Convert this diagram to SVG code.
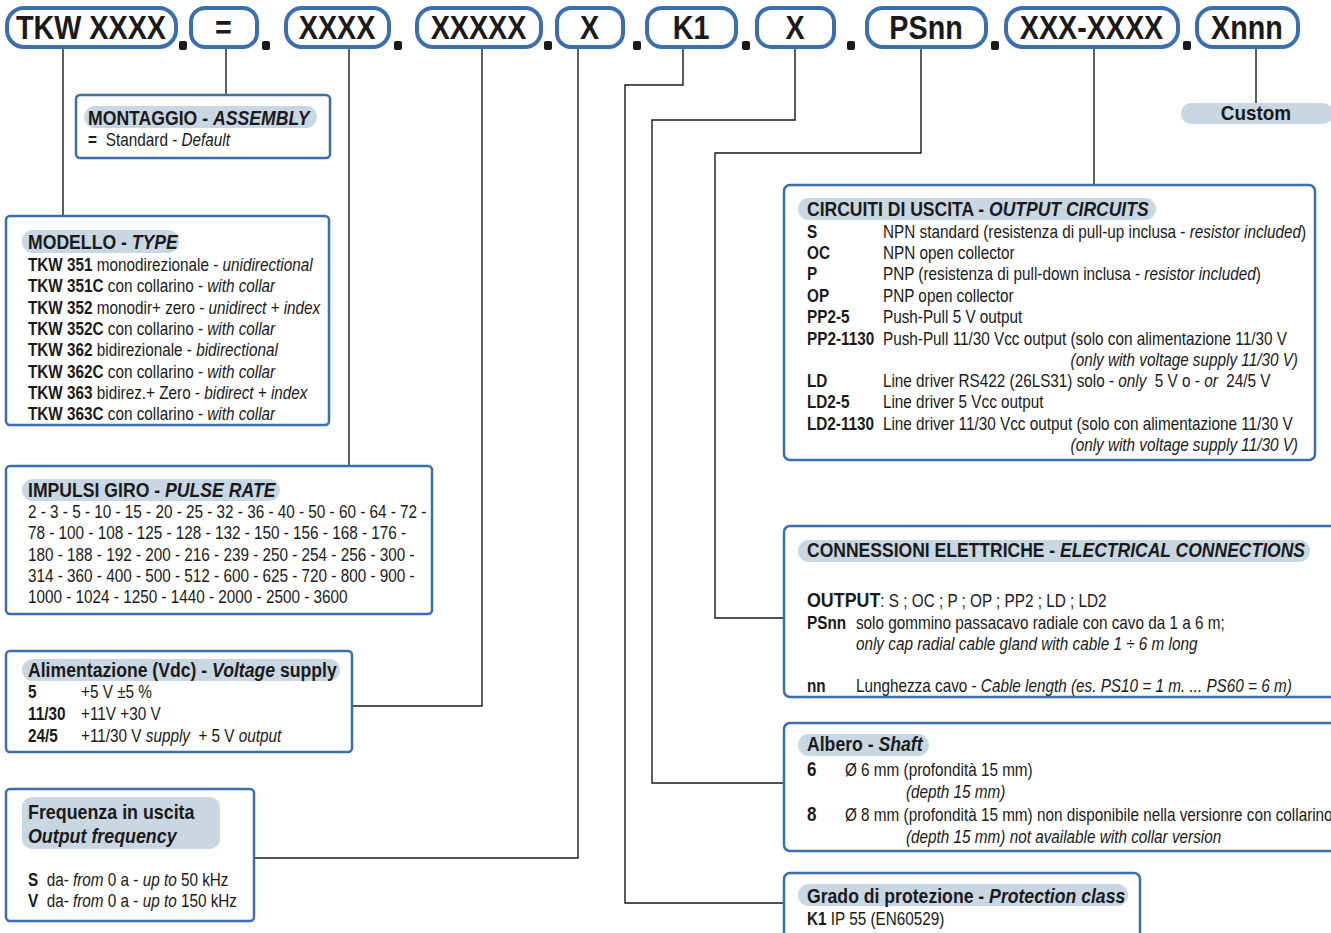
<svg xmlns="http://www.w3.org/2000/svg" width="1331" height="933" viewBox="0 0 1331 933">
<style>
.pill{fill:#fff;stroke:#3b6ead;stroke-width:4}
.box{fill:#fff;stroke:#3b6ead;stroke-width:2.5}
.hd{fill:#c9d7e3}
.dot{fill:#1a1a1a}
.con{fill:none;stroke:#1a1a1a;stroke-width:1.4}
text{font-family:"Liberation Sans",Arial,sans-serif;fill:#1a1a1a}
.pt{font-size:33px;font-weight:bold;text-anchor:middle}
.t{font-size:18px}
.h{font-size:21px;font-weight:bold}
.b{font-weight:bold}
.i{font-style:italic}
.e{text-anchor:end}
.pre{white-space:pre}
</style>
<rect width="1331" height="933" fill="#fff"/>
<g id="connectors">
<path class="con" d="M63 47V216"/>
<path class="con" d="M226 47V95"/>
<path class="con" d="M349 47V465"/>
<path class="con" d="M482 47V706H352"/>
<path class="con" d="M578 47V858H254"/>
<path class="con" d="M683 47V85H625V903H784"/>
<path class="con" d="M795 47V120H652V783H784"/>
<path class="con" d="M921 47V153H715V618H784"/>
<path class="con" d="M1094 47V185"/>
<path class="con" d="M1256 47V103"/>
</g>
<g id="code">
<rect class="pill" x="7" y="8" width="169" height="39" rx="17"/>
<rect class="pill" x="191" y="8" width="66" height="39" rx="14"/>
<rect class="pill" x="286" y="8" width="103" height="39" rx="16"/>
<rect class="pill" x="417" y="8" width="124" height="39" rx="16"/>
<rect class="pill" x="557" y="8" width="66" height="39" rx="14"/>
<rect class="pill" x="647" y="8" width="89" height="39" rx="15"/>
<rect class="pill" x="757" y="8" width="77" height="39" rx="14"/>
<rect class="pill" x="867" y="8" width="119" height="39" rx="16"/>
<rect class="pill" x="1006" y="8" width="172" height="39" rx="17"/>
<rect class="pill" x="1197" y="8" width="101" height="39" rx="16"/>
<g transform="translate(0 38.5) scale(0.87 1)">
<text class="pt" x="104.6">TKW XXXX</text>
<text class="pt" x="256.9">=</text>
<text class="pt" x="387.4">XXXX</text>
<text class="pt" x="550">XXXXX</text>
<text class="pt" x="677.6">X</text>
<text class="pt" x="794.3">K1</text>
<text class="pt" x="913.8">X</text>
<text class="pt" x="1064.4">PSnn</text>
<text class="pt" x="1254.6">XXX-XXXX</text>
<text class="pt" x="1433.3">Xnnn</text>
</g>
<rect class="dot" x="179" y="41" width="8" height="9" rx="2"/>
<rect class="dot" x="262" y="41" width="8" height="9" rx="2"/>
<rect class="dot" x="394" y="41" width="8" height="9" rx="2"/>
<rect class="dot" x="544" y="41" width="8" height="9" rx="2"/>
<rect class="dot" x="633" y="41" width="8" height="9" rx="2"/>
<rect class="dot" x="742" y="41" width="8" height="9" rx="2"/>
<rect class="dot" x="847" y="41" width="8" height="9" rx="2"/>
<rect class="dot" x="991" y="41" width="8" height="9" rx="2"/>
<rect class="dot" x="1183" y="41" width="8" height="9" rx="2"/>
</g>
<g id="custom">
<rect class="hd" x="1181" y="103" width="152" height="21" rx="10"/>
<text x="1256" y="120" style="font-size:21px;font-weight:bold;text-anchor:middle" transform="translate(1256 0) scale(0.9 1) translate(-1256 0)">Custom</text>
</g>
<g id="montaggio">
<rect class="box" x="76" y="95" width="254" height="63" rx="4"/>
<rect class="hd" x="84" y="106" width="233" height="22" rx="11"/>
<g transform="translate(88 0) scale(0.84 1)">
<text class="h" x="0" y="125">MONTAGGIO - <tspan class="i">ASSEMBLY</tspan></text>
</g>
<g transform="translate(88 0) scale(0.85 1)">
<text class="t" y="146"><tspan class="b" x="0">=</tspan><tspan x="21">Standard - </tspan><tspan class="i">Default</tspan></text>
</g>
</g>
<g id="modello">
<rect class="box" x="6" y="216" width="323" height="209" rx="4"/>
<rect class="hd" x="22" y="230" width="157" height="23" rx="11"/>
<g transform="translate(28 0) scale(0.84 1)">
<text class="h" x="0" y="249">MODELLO - <tspan class="i">TYPE</tspan></text>
</g>
<g transform="translate(28 0) scale(0.85 1)">
<text class="t" x="0" y="271"><tspan class="b">TKW 351</tspan> monodirezionale - <tspan class="i">unidirectional</tspan></text>
<text class="t" x="0" y="292"><tspan class="b">TKW 351C</tspan> con collarino - <tspan class="i">with collar</tspan></text>
<text class="t" x="0" y="314"><tspan class="b">TKW 352</tspan> monodir+ zero - <tspan class="i">unidirect + index</tspan></text>
<text class="t" x="0" y="335"><tspan class="b">TKW 352C</tspan> con collarino - <tspan class="i">with collar</tspan></text>
<text class="t" x="0" y="356"><tspan class="b">TKW 362</tspan> bidirezionale - <tspan class="i">bidirectional</tspan></text>
<text class="t" x="0" y="378"><tspan class="b">TKW 362C</tspan> con collarino - <tspan class="i">with collar</tspan></text>
<text class="t" x="0" y="399"><tspan class="b">TKW 363</tspan> bidirez.+ Zero - <tspan class="i">bidirect + index</tspan></text>
<text class="t" x="0" y="420"><tspan class="b">TKW 363C</tspan> con collarino - <tspan class="i">with collar</tspan></text>
</g>
</g>
<g id="impulsi">
<rect class="box" x="6" y="466" width="426" height="148" rx="4"/>
<rect class="hd" x="22" y="479" width="258" height="22" rx="11"/>
<g transform="translate(28 0) scale(0.84 1)">
<text class="h" x="0" y="497">IMPULSI GIRO - <tspan class="i">PULSE RATE</tspan></text>
</g>
<g transform="translate(28 0) scale(0.85 1)">
<text class="t" x="0" y="518">2 - 3 - 5 - 10 - 15 - 20 - 25 - 32 - 36 - 40 - 50 - 60 - 64 - 72 -</text>
<text class="t" x="0" y="539">78 - 100 - 108 - 125 - 128 - 132 - 150 - 156 - 168 - 176 -</text>
<text class="t" x="0" y="561">180 - 188 - 192 - 200 - 216 - 239 - 250 - 254 - 256 - 300 -</text>
<text class="t" x="0" y="582">314 - 360 - 400 - 500 - 512 - 600 - 625 - 720 - 800 - 900 -</text>
<text class="t" x="0" y="603">1000 - 1024 - 1250 - 1440 - 2000 - 2500 - 3600</text>
</g>
</g>
<g id="alimentazione">
<rect class="box" x="6" y="651" width="346" height="101" rx="4"/>
<rect class="hd" x="22" y="659" width="318" height="22" rx="11"/>
<g transform="translate(28 0) scale(0.84 1)">
<text class="h" x="0" y="677">Alimentazione (Vdc) - <tspan class="i">Voltage</tspan> supply</text>
</g>
<g transform="translate(28 0) scale(0.85 1)">
<text class="t" y="698"><tspan class="b" x="0">5</tspan><tspan x="62.4">+5 V ±5 %</tspan></text>
<text class="t" y="720"><tspan class="b" x="0">11/30</tspan><tspan x="62.4">+11V +30 V</tspan></text>
<text class="t pre" y="742"><tspan class="b" x="0">24/5</tspan><tspan x="62.4">+11/30 V </tspan><tspan class="i">supply</tspan>  + 5 V <tspan class="i">output</tspan></text>
</g>
</g>
<g id="frequenza">
<rect class="box" x="6" y="789" width="248" height="132" rx="4"/>
<rect class="hd" x="22" y="797" width="198" height="52" rx="10"/>
<g transform="translate(28 0) scale(0.85 1)">
<text class="h" x="0" y="819">Frequenza in uscita</text>
<text class="h i" x="0" y="843">Output frequency</text>
<text class="t pre" x="0" y="886"><tspan class="b">S</tspan>  da- <tspan class="i">from</tspan> 0 a - <tspan class="i">up to</tspan> 50 kHz</text>
<text class="t pre" x="0" y="907"><tspan class="b">V</tspan>  da- <tspan class="i">from</tspan> 0 a - <tspan class="i">up to</tspan> 150 kHz</text>
</g>
</g>
<g id="circuiti">
<rect class="box" x="784" y="185" width="531" height="275" rx="6"/>
<rect class="hd" x="798" y="198" width="358" height="22" rx="11"/>
<g transform="translate(807 0) scale(0.835 1)">
<text class="h" x="0" y="216">CIRCUITI DI USCITA - <tspan class="i">OUTPUT CIRCUITS</tspan></text>
</g>
<g transform="translate(807 0) scale(0.85 1)">
<text class="t" y="238"><tspan class="b" x="0">S</tspan><tspan x="89.4">NPN standard (resistenza di pull-up inclusa - </tspan><tspan class="i">resistor included</tspan>)</text>
<text class="t" y="259"><tspan class="b" x="0">OC</tspan><tspan x="89.4">NPN open collector</tspan></text>
<text class="t" y="280"><tspan class="b" x="0">P</tspan><tspan x="89.4">PNP (resistenza di pull-down inclusa - </tspan><tspan class="i">resistor included</tspan>)</text>
<text class="t" y="302"><tspan class="b" x="0">OP</tspan><tspan x="89.4">PNP open collector</tspan></text>
<text class="t" y="323"><tspan class="b" x="0">PP2-5</tspan><tspan x="89.4">Push-Pull 5 V output</tspan></text>
<text class="t" y="345"><tspan class="b" x="0">PP2-1130</tspan><tspan x="89.4">Push-Pull 11/30 Vcc output (solo con alimentazione 11/30 V</tspan></text>
<text class="t i e" x="577.6" y="366">(only with voltage supply 11/30 V)</text>
<text class="t pre" y="387"><tspan class="b" x="0">LD</tspan><tspan x="89.4">Line driver RS422 (26LS31) solo - </tspan><tspan class="i">only</tspan>  5 V o - <tspan class="i">or</tspan>  24/5 V</text>
<text class="t" y="408"><tspan class="b" x="0">LD2-5</tspan><tspan x="89.4">Line driver 5 Vcc output</tspan></text>
<text class="t" y="430"><tspan class="b" x="0">LD2-1130</tspan><tspan x="89.4">Line driver 11/30 Vcc output (solo con alimentazione 11/30 V</tspan></text>
<text class="t i e" x="577.6" y="451">(only with voltage supply 11/30 V)</text>
</g>
</g>
<g id="connessioni">
<rect class="box" x="784" y="526" width="560" height="171" rx="6"/>
<rect class="hd" x="798" y="540" width="512" height="22" rx="11"/>
<g transform="translate(807 0) scale(0.835 1)">
<text class="h" x="0" y="557">CONNESSIONI ELETTRICHE - <tspan class="i">ELECTRICAL CONNECTIONS</tspan></text>
</g>
<g transform="translate(807 0) scale(0.85 1)">
<text class="t" x="0" y="607"><tspan class="b" style="font-size:21px">OUTPUT</tspan>: S ; OC ; P ; OP ; PP2 ; LD ; LD2</text>
<text class="t" y="629"><tspan class="b" x="0">PSnn</tspan><tspan x="57.6">solo gommino passacavo radiale con cavo da 1 a 6 m;</tspan></text>
<text class="t i" x="57.6" y="650">only cap radial cable gland with cable 1 ÷ 6 m long</text>
<text class="t" y="692"><tspan class="b" x="0">nn</tspan><tspan x="57.6">Lunghezza cavo - </tspan><tspan class="i">Cable length (es. PS10 = 1 m. ... PS60 = 6 m)</tspan></text>
</g>
</g>
<g id="albero">
<rect class="box" x="784" y="723" width="560" height="128" rx="6"/>
<rect class="hd" x="798" y="734" width="131" height="22" rx="11"/>
<g transform="translate(807 0) scale(0.84 1)">
<text class="h" x="0" y="751">Albero - <tspan class="i">Shaft</tspan></text>
</g>
<g transform="translate(807 0) scale(0.85 1)">
<text class="t" y="776"><tspan class="b" x="0" style="font-size:20px">6</tspan><tspan x="44.7">Ø 6 mm (profondità 15 mm)</tspan></text>
<text class="t i" x="116.5" y="798">(depth 15 mm)</text>
<text class="t" y="821"><tspan class="b" x="0" style="font-size:20px">8</tspan><tspan x="44.7">Ø 8 mm (profondità 15 mm) non disponibile nella versionre con collarino</tspan></text>
<text class="t i" x="116.5" y="843">(depth 15 mm) not available with collar version</text>
</g>
</g>
<g id="grado">
<rect class="box" x="784" y="873" width="356" height="80" rx="6"/>
<rect class="hd" x="798" y="884" width="330" height="22" rx="11"/>
<g transform="translate(807 0) scale(0.84 1)">
<text class="h" x="0" y="903">Grado di protezione - <tspan class="i">Protection class</tspan></text>
</g>
<g transform="translate(807 0) scale(0.85 1)">
<text class="t" x="0" y="925"><tspan class="b">K1</tspan> IP 55 (EN60529)</text>
</g>
</g>
</svg>
